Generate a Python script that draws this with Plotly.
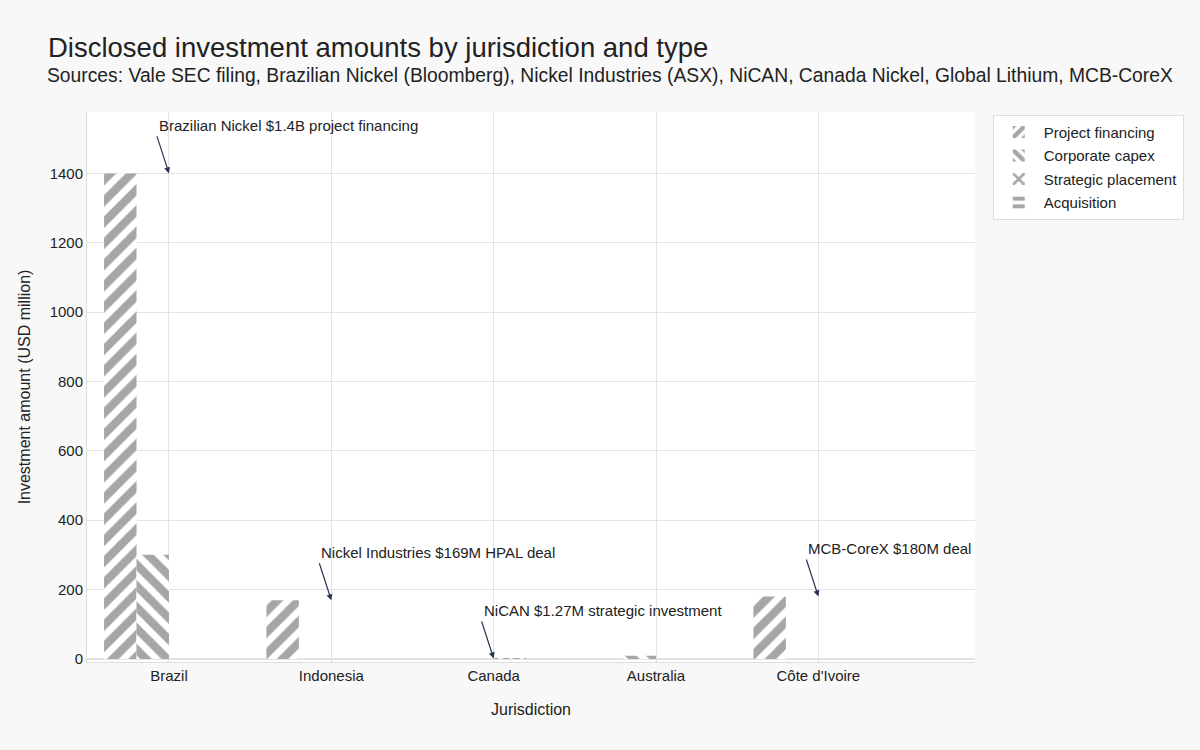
import plotly.graph_objects as go

jurisdictions = ["Brazil", "Indonesia", "Canada", "Australia", "Côte d'Ivoire"]
project_financing = [1400, 169, 0, 0, 180]
corporate_capex = [300, 0, 0, 9, 0]
strategic_placement = [0, 0, 1.27, 0, 0]
acquisition = [0, 0, 0, 0, 0]

series = [
    ("Project financing", project_financing, "/"),
    ("Corporate capex", corporate_capex, "\\"),
    ("Strategic placement", strategic_placement, "x"),
    ("Acquisition", acquisition, "-"),
]

notes = [
    ("Brazil", 1400, "Brazilian Nickel $1.4B project financing"),
    ("Indonesia", 169, "Nickel Industries $169M HPAL deal"),
    ("Canada", 1.27, "NiCAN $1.27M strategic investment"),
    ("Côte d'Ivoire", 180, "MCB-CoreX $180M deal"),
]

FONT = "Liberation Sans, Arial, sans-serif"
GRAY = "#a6a6a6"
fig = go.Figure()
for name, vals, shape in series:
    fig.add_trace(go.Bar(
        name=name, x=jurisdictions, y=vals, legendgroup=name,
        marker=dict(color=GRAY, line=dict(width=0),
                    pattern=dict(shape=shape, size=15, solidity=0.55,
                                 fgcolor=GRAY, bgcolor="#ffffff", fillmode="replace")),
    ))

for xcat, yv, txt in notes:
    fig.add_annotation(
        x=xcat, y=yv, text=txt, showarrow=True, arrowhead=2, arrowsize=1,
        arrowwidth=1.2, arrowcolor="#2a3550", ax=-12, ay=-37,
        xanchor="left", yanchor="bottom",
        font=dict(size=15, color="#222", family=FONT),
    )

fig.add_annotation(
    text="Sources: Vale SEC filing, Brazilian Nickel (Bloomberg), Nickel Industries (ASX), "
         "NiCAN, Canada Nickel, Global Lithium, MCB-CoreX",
    xref="paper", yref="paper", x=-0.0473, y=1.067, xanchor="left", yanchor="middle",
    showarrow=False, font=dict(size=19.3, color="#222", family=FONT),
)

fig.update_layout(
    width=1200, height=750,
    barmode="group", bargap=0.2, bargroupgap=0,
    paper_bgcolor="#f8f8f8", plot_bgcolor="#ffffff",
    font=dict(family=FONT, size=15, color="#222"),
    margin=dict(l=87, r=225, t=112, b=88),
    title=dict(
        text="Disclosed investment amounts by jurisdiction and type",
        x=0.04, xref="container", xanchor="left",
        y=0.937, yref="container", yanchor="middle",
        font=dict(size=27.5, color="#222", family=FONT),
    ),
    legend=dict(x=1.02, y=0.995, xanchor="left", yanchor="top",
                bgcolor="#ffffff", bordercolor="#dddddd", borderwidth=1,
                font=dict(size=15, family=FONT), tracegroupgap=1,
                traceorder="grouped", itemwidth=40),
    xaxis=dict(title=dict(text="Jurisdiction", font=dict(size=16), standoff=20),
               range=[-0.505, 4.965], showgrid=True, gridcolor="#e3e3e3",
               showline=True, linecolor="#dddddd", ticks="", tickfont=dict(size=15)),
    yaxis=dict(title=dict(text="Investment amount (USD million)", font=dict(size=16)),
               range=[-9, 1577], showgrid=True, gridcolor="#e3e3e3",
               zeroline=True, zerolinecolor="#e3e3e3",
               showline=True, linecolor="#dddddd", dtick=200, tickfont=dict(size=15)),
)

fig.write_html("out.html")
